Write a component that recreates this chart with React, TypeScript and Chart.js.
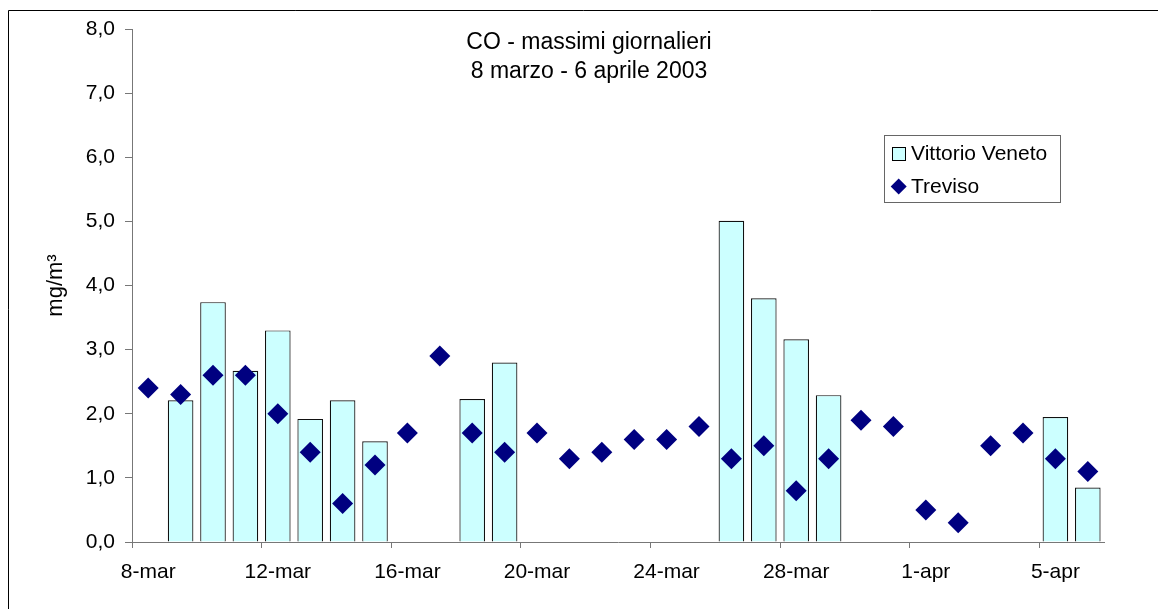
import React, { useEffect, useRef } from "react";
import { Chart, registerables } from "chart.js";

Chart.register(...registerables);

const categories = [
  "8-mar", "9-mar", "10-mar", "11-mar", "12-mar", "13-mar", "14-mar", "15-mar",
  "16-mar", "17-mar", "18-mar", "19-mar", "20-mar", "21-mar", "22-mar", "23-mar",
  "24-mar", "25-mar", "26-mar", "27-mar", "28-mar", "29-mar", "30-mar", "31-mar",
  "1-apr", "2-apr", "3-apr", "4-apr", "5-apr", "6-apr",
];

const vittorioVeneto = [
  null, 2.21, 3.74, 2.67, 3.3, 1.92, 2.21, 1.57,
  null, null, 2.23, 2.8, null, null, null, null,
  null, null, 5.01, 3.8, 3.16, 2.29, null, null,
  null, null, null, null, 1.95, 0.85,
];

const treviso = [
  2.4, 2.3, 2.6, 2.6, 2.0, 1.4, 0.6, 1.2,
  1.7, 2.9, 1.7, 1.4, 1.7, 1.3, 1.4, 1.6,
  1.6, 1.8, 1.3, 1.5, 0.8, 1.3, 1.9, 1.8,
  0.5, 0.3, 1.5, 1.7, 1.3, 1.1,
];

const titleLines = ["CO - massimi giornalieri", "8 marzo - 6 aprile 2003"];
const seriesNames = ["Vittorio Veneto", "Treviso"];
const yAxisTitle = "mg/m³";

const FONT = "'Liberation Sans', Arial, sans-serif";
const BAR_FILL = "#CCFFFF";
const DIAMOND = "#000080";
const AXIS = "#777777";

const decorPlugin = {
  id: "decor",
  afterDraw(chart: any) {
    const ctx = chart.ctx as CanvasRenderingContext2D;
    ctx.save();
    // outer frame
    ctx.strokeStyle = "#000";
    ctx.lineWidth = 1;
    ctx.beginPath();
    ctx.moveTo(8.5, 609);
    ctx.lineTo(8.5, 10.5);
    ctx.lineTo(1158, 10.5);
    ctx.stroke();

    // title
    ctx.fillStyle = "#000";
    ctx.font = `23px ${FONT}`;
    ctx.textAlign = "center";
    ctx.textBaseline = "middle";
    ctx.fillText(titleLines[0], 589, 43);
    ctx.fillText(titleLines[1], 589, 72);

    // legend
    ctx.strokeStyle = "#666";
    ctx.lineWidth = 1;
    ctx.strokeRect(884.5, 135.5, 176, 67);
    ctx.fillStyle = BAR_FILL;
    ctx.fillRect(892, 147, 14, 14);
    ctx.strokeStyle = "#000";
    ctx.strokeRect(892.5, 147.5, 13, 13);
    ctx.fillStyle = DIAMOND;
    ctx.beginPath();
    ctx.moveTo(898.7, 178.5);
    ctx.lineTo(906.7, 186.5);
    ctx.lineTo(898.7, 194.5);
    ctx.lineTo(890.7, 186.5);
    ctx.closePath();
    ctx.fill();
    ctx.fillStyle = "#000";
    ctx.font = `21px ${FONT}`;
    ctx.textAlign = "left";
    ctx.fillText(seriesNames[0], 911, 154);
    ctx.fillText(seriesNames[1], 911, 187);
    ctx.restore();
  },
};

export default function App() {
  const ref = useRef<HTMLCanvasElement | null>(null);

  useEffect(() => {
    if (!ref.current) return;
    const chart = new Chart(ref.current, {
      type: "bar",
      data: {
        labels: categories,
        datasets: [
          {
            type: "line",
            label: seriesNames[1],
            data: treviso,
            showLine: false,
            pointStyle: "rectRot",
            pointRadius: 10.5,
            pointHoverRadius: 10.5,
            pointBackgroundColor: DIAMOND,
            pointBorderColor: DIAMOND,
            pointBorderWidth: 0,
            backgroundColor: DIAMOND,
            borderColor: DIAMOND,
            order: 1,
          } as any,
          {
            type: "bar",
            label: seriesNames[0],
            data: vittorioVeneto,
            backgroundColor: BAR_FILL,
            borderColor: "#111",
            borderWidth: 1.2,
            categoryPercentage: 1,
            barPercentage: 0.79,
            order: 2,
          } as any,
        ],
      },
      options: {
        animation: false,
        responsive: false,
        maintainAspectRatio: false,
        devicePixelRatio: 1,
        layout: { padding: { top: 29, right: 54, bottom: 0, left: 0 } },
        plugins: {
          legend: { display: false },
          title: { display: false },
          tooltip: { enabled: false },
        },
        scales: {
          x: {
            type: "category",
            offset: true,
            grid: {
              offset: true,
              drawOnChartArea: false,
              drawTicks: true,
              tickLength: 6,
              color: (c: any) => (c.index !== undefined && c.index % 4 === 0 ? AXIS : "rgba(0,0,0,0)"),
              tickColor: (c: any) => (c.index !== undefined && c.index % 4 === 0 ? AXIS : "rgba(0,0,0,0)"),
            },
            border: { display: true, color: AXIS, width: 1 },
            ticks: {
              autoSkip: false,
              maxRotation: 0,
              minRotation: 0,
              padding: 12,
              color: "#000",
              font: { family: FONT, size: 21 },
              callback: (_v: any, i: number) => (i % 4 === 0 ? categories[i] : ""),
            },
            afterFit: (s: any) => {
              s.height = 67;
            },
          },
          y: {
            min: 0,
            max: 8,
            grid: {
              drawOnChartArea: false,
              drawTicks: true,
              tickLength: 7,
              color: AXIS,
            },
            border: { display: true, color: AXIS, width: 1 },
            ticks: {
              stepSize: 1,
              padding: 10,
              color: "#000",
              font: { family: FONT, size: 21 },
              callback: (v: any) => Number(v).toFixed(1).replace(".", ","),
            },
            title: {
              display: true,
              text: yAxisTitle,
              color: "#000",
              font: { family: FONT, size: 22 },
              padding: { top: 43, bottom: 0 },
            },
            afterFit: (s: any) => {
              s.width = 132;
            },
          },
        },
      },
      plugins: [decorPlugin],
    });
    return () => chart.destroy();
  }, []);

  return (
    <div style={{ position: "fixed", left: 0, top: 0, width: 1158, height: 609, background: "#fff" }}>
      <canvas ref={ref} width={1158} height={609} style={{ width: 1158, height: 609, display: "block" }} />
    </div>
  );
}
